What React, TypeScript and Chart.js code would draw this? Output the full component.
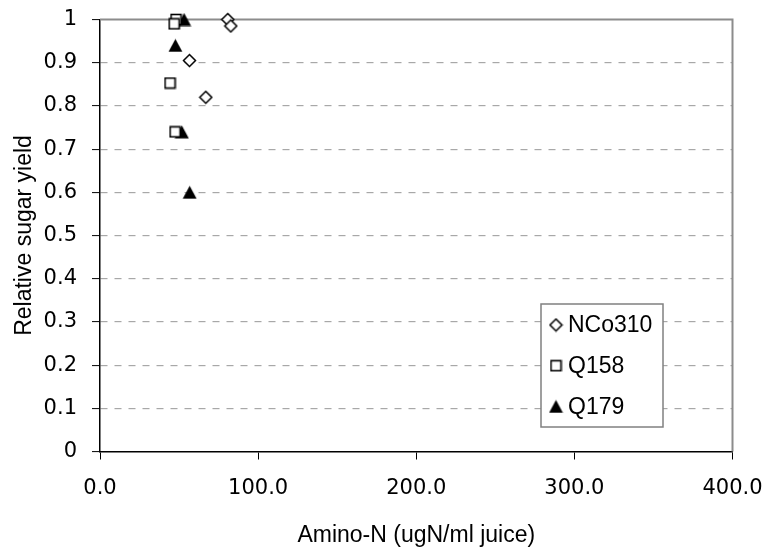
import React, { useEffect, useRef } from "react";
import { Chart, registerables } from "chart.js";

Chart.register(...registerables);

// Series: amino-N in juice (ugN/ml) vs. relative sugar yield
const seriesNames = ["NCo310", "Q158", "Q179"];
const nco310Amino = [80.8, 82.7, 56.6, 66.9];
const nco310Yield = [1.0, 0.985, 0.905, 0.82];
const q158Amino = [48.1, 46.9, 44.3, 47.5];
const q158Yield = [1.0, 0.99, 0.853, 0.74];
const q179Amino = [53.2, 47.7, 51.7, 56.7];
const q179Yield = [1.0, 0.94, 0.74, 0.6];

const xTickValues = [0, 100, 200, 300, 400];
const yTickValues = [0, 0.1, 0.2, 0.3, 0.4, 0.5, 0.6, 0.7, 0.8, 0.9, 1];

const xTitle = "Amino-N (ugN/ml juice)";
const yTitle = "Relative sugar yield";

const ARIAL = "'Liberation Sans', Arial, sans-serif";
const NUMERIC = "'DejaVu Sans', sans-serif";

type MarkerKind = "diamond" | "square" | "triangle";

function makeMarker(kind: MarkerKind): HTMLCanvasElement {
  const c = document.createElement("canvas");
  const ctx = c.getContext("2d")!;
  if (kind === "diamond") {
    c.width = 15;
    c.height = 15;
    ctx.beginPath();
    ctx.moveTo(7.5, 1.5);
    ctx.lineTo(13.5, 7.5);
    ctx.lineTo(7.5, 13.5);
    ctx.lineTo(1.5, 7.5);
    ctx.closePath();
    ctx.fillStyle = "#fff";
    ctx.fill();
    ctx.lineWidth = 1.5;
    ctx.strokeStyle = "#000";
    ctx.stroke();
  } else if (kind === "square") {
    c.width = 13;
    c.height = 13;
    ctx.fillStyle = "#fff";
    ctx.fillRect(1.5, 1.5, 10, 10);
    ctx.lineWidth = 1.6;
    ctx.strokeStyle = "#000";
    ctx.strokeRect(1.5, 1.5, 10, 10);
  } else {
    c.width = 15;
    c.height = 14;
    ctx.beginPath();
    ctx.moveTo(7.5, 0.5);
    ctx.lineTo(14.5, 13.5);
    ctx.lineTo(0.5, 13.5);
    ctx.closePath();
    ctx.fillStyle = "#000";
    ctx.fill();
  }
  return c;
}

function toPoints(xs: number[], ys: number[]) {
  return xs.map((x, i) => ({ x, y: ys[i] }));
}

// Keep the plot area where the layout padding puts it
function noLabelPadding(scale: any) {
  scale.paddingTop = 0;
  scale.paddingBottom = 0;
  scale.paddingLeft = 0;
  scale.paddingRight = 0;
}

// Grey frame on the top and right of the plot area
const framePlugin = {
  id: "plotFrame",
  beforeDatasetsDraw(chart: any) {
    const { ctx, chartArea } = chart;
    ctx.save();
    ctx.strokeStyle = "#8c8c8c";
    ctx.lineWidth = 2;
    ctx.beginPath();
    ctx.moveTo(chartArea.left, chartArea.top);
    ctx.lineTo(chartArea.right, chartArea.top);
    ctx.lineTo(chartArea.right, chartArea.bottom);
    ctx.stroke();
    ctx.restore();
  },
};

// Boxed legend inside the plot, lower right
const boxLegendPlugin = {
  id: "boxLegend",
  afterDraw(chart: any) {
    const { ctx } = chart;
    const left = 541;
    const top = 304;
    const right = 663;
    const bottom = 427;
    ctx.save();
    ctx.fillStyle = "#fff";
    ctx.fillRect(left, top, right - left, bottom - top);
    ctx.strokeStyle = "#808080";
    ctx.lineWidth = 1.5;
    ctx.strokeRect(left, top, right - left, bottom - top);
    ctx.font = `23px ${ARIAL}`;
    ctx.fillStyle = "#000";
    ctx.textBaseline = "middle";
    ctx.textAlign = "left";
    chart.data.datasets.forEach((ds: any, i: number) => {
      const cy = 325 + i * 40.7;
      const img = ds.pointStyle as HTMLCanvasElement;
      ctx.drawImage(img, 556 - img.width / 2, cy - img.height / 2);
      ctx.fillText(ds.label, 568, cy + 1);
    });
    ctx.restore();
  },
};

export default function App() {
  const canvasRef = useRef<HTMLCanvasElement | null>(null);

  useEffect(() => {
    const canvas = canvasRef.current;
    if (!canvas) return;
    const markers: MarkerKind[] = ["diamond", "square", "triangle"];
    const seriesData = [
      toPoints(nco310Amino, nco310Yield),
      toPoints(q158Amino, q158Yield),
      toPoints(q179Amino, q179Yield),
    ];

    const chart = new Chart(canvas, {
      type: "scatter",
      data: {
        datasets: seriesNames.map((name, i) => ({
          label: name,
          data: seriesData[i],
          pointStyle: makeMarker(markers[i]),
          pointRadius: 7,
          pointHoverRadius: 7,
          showLine: false,
          clip: false,
        })),
      },
      options: {
        responsive: false,
        animation: false,
        devicePixelRatio: 1,
        layout: { padding: { top: 19.5, right: 37.5, left: 0, bottom: 0 } },
        plugins: {
          legend: { display: false },
          tooltip: { enabled: false },
          title: { display: false },
        },
        scales: {
          x: {
            type: "linear",
            min: 0,
            max: 400,
            afterBuildTicks: (scale: any) => {
              scale.ticks = xTickValues.map((v) => ({ value: v }));
            },
            afterFit: (scale: any) => {
              scale.height = 99.5;
              noLabelPadding(scale);
            },
            grid: {
              drawOnChartArea: false,
              drawTicks: true,
              tickLength: 8,
              tickColor: "#000",
              tickWidth: 1,
            },
            border: { display: true, color: "#000", width: 1.5 },
            ticks: {
              color: "#000",
              padding: 16,
              maxRotation: 0,
              autoSkip: false,
              font: { family: NUMERIC, size: 21 },
              callback: (v: any) => Number(v).toFixed(1),
            },
            title: {
              display: true,
              text: xTitle,
              color: "#000",
              font: { family: ARIAL, size: 23 },
              padding: { top: 0, bottom: 2 },
            },
          },
          y: {
            type: "linear",
            min: 0,
            max: 1,
            afterBuildTicks: (scale: any) => {
              scale.ticks = yTickValues.map((v) => ({ value: v }));
            },
            afterFit: (scale: any) => {
              scale.width = 100;
              noLabelPadding(scale);
            },
            grid: {
              drawOnChartArea: true,
              drawTicks: true,
              tickLength: 8,
              tickColor: "#000",
              tickWidth: 1,
              lineWidth: 1.2,
              color: (c: any) =>
                c.tick && (c.tick.value === 0 || c.tick.value === 1)
                  ? "rgba(0,0,0,0)"
                  : "#a8a8a8",
            },
            border: { display: true, color: "#000", width: 1.5, dash: [7, 7] },
            ticks: {
              color: "#000",
              padding: 15,
              autoSkip: false,
              font: { family: NUMERIC, size: 21 },
              callback: (v: any) => String(Number(Number(v).toFixed(1))),
            },
            title: {
              display: true,
              text: yTitle,
              color: "#000",
              font: { family: ARIAL, size: 23 },
              padding: { top: 11, bottom: 0 },
            },
          },
        },
      },
      plugins: [framePlugin, boxLegendPlugin],
    });

    return () => chart.destroy();
  }, []);

  return (
    <div style={{ position: "absolute", left: 0, top: 0, width: 770, height: 551, background: "#fff" }}>
      <canvas ref={canvasRef} width={770} height={551} style={{ display: "block" }} />
    </div>
  );
}
